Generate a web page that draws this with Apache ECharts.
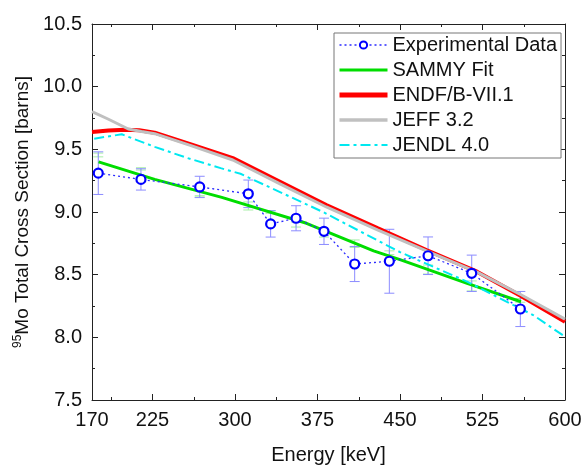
<!DOCTYPE html>
<html>
<head>
<meta charset="utf-8">
<script src="https://cdn.jsdelivr.net/npm/echarts@6/dist/echarts.min.js"></script>
<style>
html,body{margin:0;padding:0;background:#fff;}
#chart{width:584px;height:468px;}
</style>
</head>
<body>
<div id="chart"></div>
<script>
// ---- Data ----
const xLabelValues = [170, 225, 300, 375, 450, 525, 600];
const xMajorTicks = [225, 300, 375, 450, 525, 600];
const xMinorTicks = [187.5, 262.5, 337.5, 412.5, 487.5, 562.5];

const expEnergy = [175.7, 214.5, 267.9, 312.1, 332.4, 355.5, 380.9, 408.8, 440.3, 475.5, 515.2, 559.4];
const expValue  = [9.31, 9.26, 9.20, 9.145, 8.905, 8.95, 8.846, 8.585, 8.607, 8.651, 8.511, 8.226];
const expErr    = [0.17, 0.085, 0.085, 0.11, 0.105, 0.10, 0.105, 0.14, 0.255, 0.15, 0.145, 0.14];

const greenBarLo = [9.44, 9.335, 9.12, 9.016, 8.99, 8.88, 8.80, 8.718, 8.66, 8.505, 8.37, 8.28];
const greenBarHi = [9.47, 9.353, 9.13, 9.08, 9.01, 8.92, 8.83, 8.777, 8.69, 8.577, 8.45, 8.31];

const sammyEnergy = [176, 227, 288, 365, 426, 450, 511, 560];
const sammyValue  = [9.40, 9.26, 9.117, 8.91, 8.69, 8.62, 8.431, 8.284];

const endfEnergy = [170, 185, 200, 213, 227, 260, 298, 340, 383, 430, 474, 520, 560, 600];
const endfValue  = [9.638, 9.65, 9.656, 9.652, 9.633, 9.54, 9.43, 9.245, 9.056, 8.87, 8.697, 8.524, 8.33, 8.125];

const jeffEnergy = [170, 185, 203, 215, 227, 260, 298, 340, 383, 430, 474, 520, 560, 600];
const jeffValue  = [9.80, 9.74, 9.662, 9.642, 9.625, 9.53, 9.415, 9.228, 9.04, 8.855, 8.69, 8.52, 8.34, 8.145];

const jendlEnergy = [172, 197, 227, 257, 287, 305, 380, 450, 511, 571, 600];
const jendlValue  = [9.585, 9.62, 9.52, 9.43, 9.35, 9.305, 9.0, 8.68, 8.444, 8.178, 8.005];

const legendNames = ['Experimental Data', 'SAMMY Fit', 'ENDF/B-VII.1', 'JEFF 3.2', 'JENDL 4.0'];

// ---- Build ----
const FONT = 'Liberation Sans, Arial, sans-serif';
const pairs = (xs, ys) => xs.map((x, i) => [x, ys[i]]);

function errRenderer(color) {
  return function (params, api) {
    const x = api.value(0), lo = api.value(1), hi = api.value(2);
    const p1 = api.coord([x, hi]);
    const p2 = api.coord([x, lo]);
    const w = 5;
    const st = { stroke: color, lineWidth: 1 };
    return {
      type: 'group',
      children: [
        { type: 'line', shape: { x1: p1[0], y1: p1[1], x2: p2[0], y2: p2[1] }, style: st },
        { type: 'line', shape: { x1: p1[0] - w, y1: p1[1], x2: p1[0] + w, y2: p1[1] }, style: st },
        { type: 'line', shape: { x1: p2[0] - w, y1: p2[1], x2: p2[0] + w, y2: p2[1] }, style: st }
      ]
    };
  };
}

const legendWidths = { 'Experimental Data': 1.3, 'SAMMY Fit': 3, 'ENDF/B-VII.1': 5, 'JEFF 3.2': 3.5, 'JENDL 4.0': 2 };
const legendData = legendNames.map(n => n === 'Experimental Data'
  ? { name: n, lineStyle: { width: legendWidths[n] } }
  : { name: n, lineStyle: { width: legendWidths[n] }, itemStyle: { opacity: 0 } });

const axisLineStyle = { color: '#222', width: 1 };
const chart = echarts.init(document.getElementById('chart'));

const option = {
  animation: false,
  backgroundColor: '#fff',
  textStyle: { fontFamily: FONT },
  grid: { left: 92, right: 19, top: 24, bottom: 68, containLabel: false, outerBoundsMode: 'none' },
  legend: {
    data: legendData,
    orient: 'vertical',
    left: 334,
    top: 33,
    itemWidth: 48,
    itemHeight: 9,
    itemGap: 5,
    padding: [2, 4, 3, 3],
    borderColor: '#777',
    borderWidth: 1,
    backgroundColor: '#fff',
    textStyle: { fontSize: 20, color: '#111', fontFamily: FONT, lineHeight: 20 }
  },
  xAxis: [
    {
      type: 'value', min: 170, max: 600, position: 'bottom',
      name: 'Energy [keV]', nameLocation: 'middle', nameGap: 45,
      nameTextStyle: { fontSize: 20, color: '#111', fontFamily: FONT },
      axisLine: { show: true, onZero: false, lineStyle: axisLineStyle },
      axisTick: { show: true, inside: true, length: 6, customValues: xMajorTicks, lineStyle: axisLineStyle },
      axisLabel: { customValues: xLabelValues, fontSize: 20, color: '#111', margin: 10, fontFamily: FONT },
      splitLine: { show: false }
    },
    {
      type: 'value', min: 170, max: 600, position: 'bottom',
      axisLine: { show: false, onZero: false },
      axisTick: { show: true, inside: true, length: 3, customValues: xMinorTicks, lineStyle: axisLineStyle },
      axisLabel: { show: false },
      splitLine: { show: false }
    },
    {
      type: 'value', min: 170, max: 600, position: 'top',
      axisLine: { show: true, onZero: false, lineStyle: axisLineStyle },
      axisTick: { show: true, inside: true, length: 6, customValues: xMajorTicks, lineStyle: axisLineStyle },
      axisLabel: { show: false },
      splitLine: { show: false }
    },
    {
      type: 'value', min: 170, max: 600, position: 'top',
      axisLine: { show: false, onZero: false },
      axisTick: { show: true, inside: true, length: 3, customValues: xMinorTicks, lineStyle: axisLineStyle },
      axisLabel: { show: false },
      splitLine: { show: false }
    }
  ],
  yAxis: [
    {
      type: 'value', min: 7.5, max: 10.5, interval: 0.5, position: 'left',
      name: '{sup|95}Mo Total Cross Section [barns]', nameLocation: 'middle', nameGap: 52,
      nameTextStyle: {
        fontSize: 19, color: '#111', fontFamily: FONT,
        rich: { sup: { fontSize: 12, color: '#111', fontFamily: FONT, verticalAlign: 'top', padding: [0, 0, 9, 0] } }
      },
      axisLine: { show: true, onZero: false, lineStyle: axisLineStyle },
      axisTick: { show: true, inside: true, length: 6, lineStyle: axisLineStyle },
      minorTick: { show: true, splitNumber: 2, length: 3, lineStyle: axisLineStyle },
      axisLabel: { fontSize: 20, color: '#111', margin: 10, fontFamily: FONT, formatter: v => v.toFixed(1) },
      splitLine: { show: false }
    },
    {
      type: 'value', min: 7.5, max: 10.5, interval: 0.5, position: 'right',
      axisLine: { show: true, onZero: false, lineStyle: axisLineStyle },
      axisTick: { show: true, inside: true, length: 6, lineStyle: axisLineStyle },
      minorTick: { show: true, splitNumber: 2, length: 3, lineStyle: axisLineStyle },
      axisLabel: { show: false },
      splitLine: { show: false }
    }
  ],
  series: [
    {
      name: 'greenErr', type: 'custom', z: 1, silent: true,
      renderItem: errRenderer('#a6eea6'),
      encode: { x: 0, y: [1, 2] },
      data: expEnergy.map((x, i) => [x, greenBarLo[i], greenBarHi[i]])
    },
    {
      name: 'expErr', type: 'custom', z: 2, silent: true,
      renderItem: errRenderer('#8c8cff'),
      encode: { x: 0, y: [1, 2] },
      data: expEnergy.map((x, i) => [x, expValue[i] - expErr[i], expValue[i] + expErr[i]])
    },
    {
      name: 'SAMMY Fit', type: 'line', z: 3, symbol: 'none',
      lineStyle: { color: '#00dd00', width: 3 }, itemStyle: { color: '#00dd00' },
      data: pairs(sammyEnergy, sammyValue)
    },
    {
      name: 'ENDF/B-VII.1', type: 'line', z: 4, symbol: 'none',
      lineStyle: { color: '#ff0000', width: 4 }, itemStyle: { color: '#ff0000' },
      data: pairs(endfEnergy, endfValue)
    },
    {
      name: 'JEFF 3.2', type: 'line', z: 5, symbol: 'none',
      lineStyle: { color: '#c0c0c0', width: 3 }, itemStyle: { color: '#c0c0c0' },
      data: pairs(jeffEnergy, jeffValue)
    },
    {
      name: 'JENDL 4.0', type: 'line', z: 6, symbol: 'none',
      lineStyle: { color: '#00e8f0', width: 2, type: [10, 4, 3, 4] }, itemStyle: { color: '#00e8f0' },
      data: pairs(jendlEnergy, jendlValue)
    },
    {
      name: 'Experimental Data', type: 'line', z: 7,
      symbol: 'circle', symbolSize: 9, showSymbol: true,
      lineStyle: { color: '#2a2aff', width: 1.3, type: [2, 3] },
      itemStyle: { color: '#ffffff', borderColor: '#0000ff', borderWidth: 2.2 },
      data: pairs(expEnergy, expValue)
    }
  ]
};
chart.setOption(option);
</script>
</body>
</html>
